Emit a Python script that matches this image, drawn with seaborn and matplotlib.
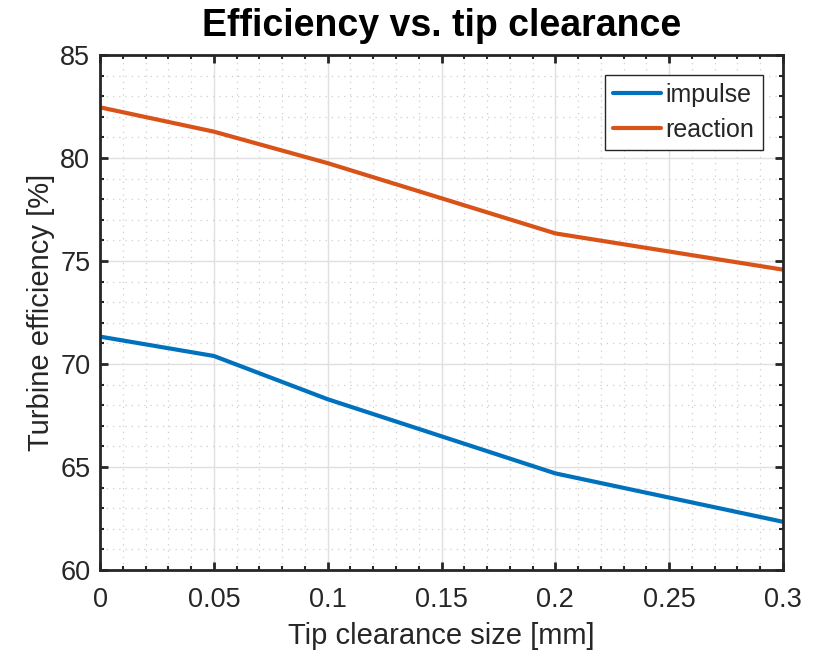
import numpy as np
import pandas as pd
import matplotlib
matplotlib.use("Agg")
import matplotlib.pyplot as plt
import seaborn as sns
from matplotlib.ticker import MultipleLocator, FuncFormatter

# Data
clearance = [0.0, 0.05, 0.1, 0.2, 0.3]
impulse = [71.33, 70.39, 68.29, 64.69, 62.34]
reaction = [82.46, 81.28, 79.75, 76.34, 74.58]
series_names = ["impulse", "reaction"]
colors = ["#0072BD", "#D95319"]

df = pd.DataFrame({
    "clearance": clearance * 2,
    "efficiency": impulse + reaction,
    "type": [series_names[0]] * len(clearance) + [series_names[1]] * len(clearance),
})

sns.set_style("ticks")
plt.rcParams['font.family'] = ['Liberation Sans', 'DejaVu Sans']
dark = "#262626"

fig = plt.figure(figsize=(8.25, 6.55), dpi=100)
ax = fig.add_axes([100/825, 85/655, 683/825, 515/655])

sns.lineplot(data=df, x="clearance", y="efficiency", hue="type",
             palette=colors, linewidth=3, ax=ax, legend=True)

ax.set_xlim(0, 0.3)
ax.set_ylim(60, 85)
ax.xaxis.set_major_locator(MultipleLocator(0.05))
ax.xaxis.set_minor_locator(MultipleLocator(0.01))
ax.yaxis.set_major_locator(MultipleLocator(5))
ax.yaxis.set_minor_locator(MultipleLocator(1))
ax.xaxis.set_major_formatter(FuncFormatter(lambda v, p: "%g" % round(v, 3)))

ax.grid(True, which="major", color="#e0e0e0", linewidth=1, linestyle="-")
ax.grid(True, which="minor", color="#cfcfcf", linewidth=0.9, linestyle=(0, (1, 4)))
ax.set_axisbelow(True)

for s in ax.spines.values():
    s.set_visible(True)
    s.set_color(dark)
    s.set_linewidth(2)

ax.tick_params(which="both", direction="in", top=True, right=True, colors=dark,
               labelcolor=dark)
ax.tick_params(which="major", length=6, width=2, labelsize=19.5)
ax.tick_params(axis="x", which="major", pad=12)
ax.tick_params(axis="y", which="major", pad=7)
ax.tick_params(which="minor", length=3, width=1.5)

ax.set_xlabel("Tip clearance size [mm]", fontsize=21, color=dark, labelpad=7)
ax.set_ylabel("Turbine efficiency [%]", fontsize=21, color=dark, labelpad=4)
ax.set_title("Efficiency vs. tip clearance", fontsize=27, fontweight="bold",
             color="black", pad=14)

leg = ax.legend(loc="upper right", bbox_to_anchor=(0.970, 0.961), borderaxespad=0,
                fontsize=18, frameon=True, fancybox=False, framealpha=1,
                edgecolor=dark, handlelength=1.9, handletextpad=0.2,
                borderpad=0.32, labelspacing=0.42)
leg.get_frame().set_linewidth(1)
for line in leg.get_lines():
    line.set_linewidth(3)

fig.savefig("out.png", dpi=100)
